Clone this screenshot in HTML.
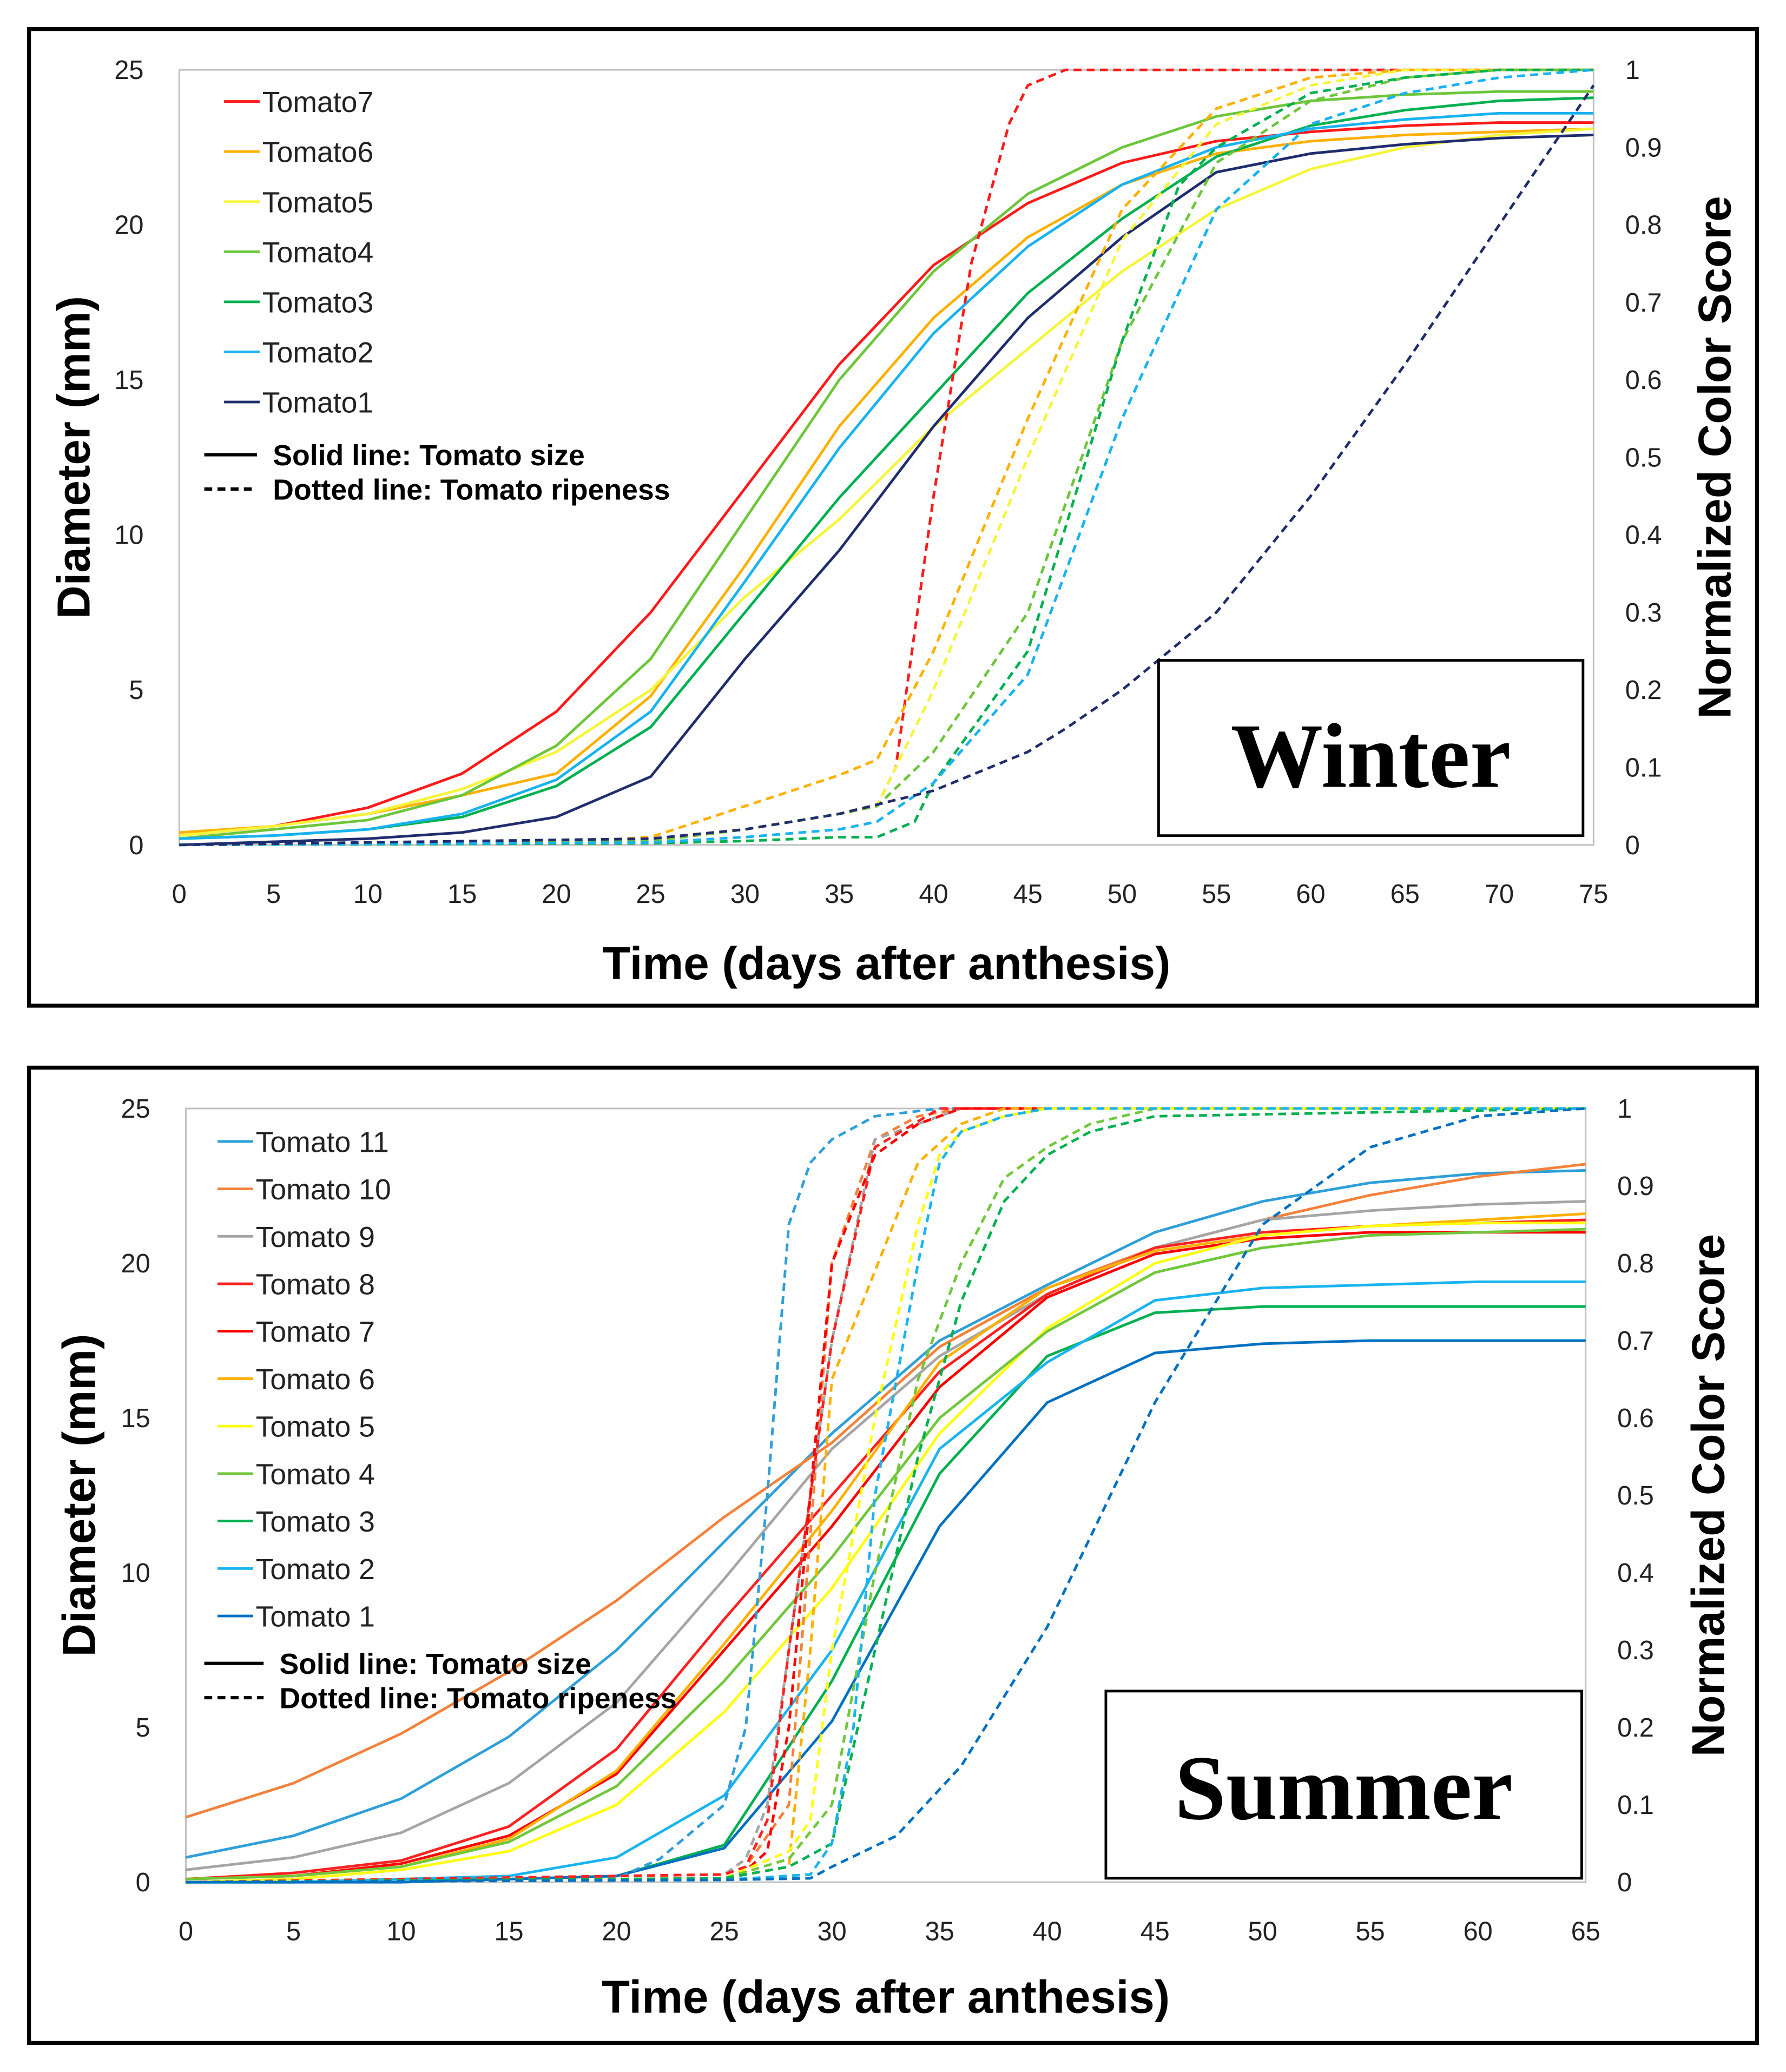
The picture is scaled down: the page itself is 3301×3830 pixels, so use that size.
<!DOCTYPE html>
<html><head><meta charset="utf-8"><style>
html,body{margin:0;padding:0;background:#fff;}
svg{display:block;}
text{font-family:"Liberation Sans",sans-serif;}
</style></head><body>
<svg id="c" width="3301" height="3830" viewBox="0 0 1355 1572" preserveAspectRatio="none" xmlns="http://www.w3.org/2000/svg"></svg>
<script>
// ---------- WINTER DATA ----------
const wDays = [0,5,10,15,20,25,30,35,40,45,50,55,60,65,70,75];
const wNames = ["Tomato7","Tomato6","Tomato5","Tomato4","Tomato3","Tomato2","Tomato1"];
const wColors = ["#ff1a1a","#ffb000","#f5f53a","#6cc63a","#00b050","#18b2f0","#1f2d6e"];
const wSize7 = [0.3,0.6,1.2,2.3,4.3,7.5,11.5,15.5,18.7,20.7,22.0,22.7,23.0,23.2,23.3,23.3];
const wSize6 = [0.4,0.6,1.0,1.6,2.3,4.8,9.0,13.5,17.0,19.6,21.3,22.3,22.7,22.9,23.0,23.1];
const wSize5 = [0.3,0.6,1.0,1.8,3.0,5.0,8.0,10.5,13.5,16.0,18.5,20.5,21.8,22.5,22.9,23.1];
const wSize4 = [0.2,0.5,0.8,1.6,3.2,6.0,10.5,15.0,18.5,21.0,22.5,23.5,24.0,24.2,24.3,24.3];
const wSize3 = [0.2,0.3,0.5,0.9,1.9,3.8,7.5,11.2,14.5,17.8,20.2,22.2,23.2,23.7,24.0,24.1];
const wSize2 = [0.2,0.3,0.5,1.0,2.1,4.3,8.5,12.8,16.5,19.3,21.3,22.5,23.1,23.4,23.6,23.6];
const wSize1 = [0.0,0.1,0.2,0.4,0.9,2.2,6.0,9.5,13.5,17.0,19.6,21.7,22.3,22.6,22.8,22.9];
const wRipeX7 = [0,20,25,30,35,37,38,40,42,44,45,47,50,75];
const wRipeY7 = [0,0.003,0.005,0.02,0.04,0.05,0.1,0.45,0.75,0.93,0.98,1,1,1];
const wRipeX6 = [0,20,25,30,35,37,40,45,50,55,60,65,75];
const wRipeY6 = [0,0.003,0.01,0.05,0.09,0.11,0.25,0.55,0.82,0.95,0.99,1,1];
const wRipeX5 = [0,25,30,35,37,40,45,50,55,60,65,75];
const wRipeY5 = [0,0.005,0.02,0.04,0.05,0.2,0.5,0.78,0.93,0.98,1,1];
const wRipeX4 = [0,25,30,35,37,40,45,50,55,60,65,70,75];
const wRipeY4 = [0,0.005,0.02,0.04,0.05,0.12,0.3,0.65,0.88,0.96,0.99,1,1];
const wRipeX3 = [0,25,30,35,37,39,40,45,50,53,55,60,65,70,75];
const wRipeY3 = [0,0.002,0.005,0.01,0.01,0.03,0.08,0.25,0.65,0.85,0.9,0.97,0.99,1,1];
const wRipeX2 = [0,25,30,35,37,40,45,50,55,60,65,70,75];
const wRipeY2 = [0,0.003,0.01,0.02,0.03,0.08,0.22,0.55,0.82,0.93,0.97,0.99,1];
const wRipeX1 = [0,25,30,35,40,45,47,50,55,60,65,70,75];
const wRipeY1 = [0,0.008,0.02,0.04,0.07,0.12,0.15,0.2,0.3,0.45,0.62,0.8,0.98];
// ---------- SUMMER DATA ----------
const sDays = [0,5,10,15,20,25,30,35,40,45,50,55,60,65];
const sNames = ["Tomato 11","Tomato 10","Tomato 9","Tomato 8","Tomato 7","Tomato 6","Tomato 5","Tomato 4","Tomato 3","Tomato 2","Tomato 1"];
const sColors = ["#2e9fd8","#f4813b","#a5a5a5","#ff2020","#ff0000","#ffb000","#ffff10","#70c73b","#00b050","#19b4f0","#0070c0"];
const sSize11 = [0.8,1.5,2.7,4.7,7.5,11.0,14.5,17.5,19.3,21.0,22.0,22.6,22.9,23.0];
const sSize10 = [2.1,3.2,4.8,6.8,9.1,11.8,14.2,17.3,19.2,20.5,21.4,22.2,22.8,23.2];
const sSize9 = [0.4,0.8,1.6,3.2,5.8,9.8,14.0,17.0,19.0,20.5,21.4,21.7,21.9,22.0];
const sSize8 = [0.1,0.3,0.7,1.8,4.3,8.5,12.5,16.5,19.0,20.5,21.0,21.2,21.3,21.4];
const sSize7 = [0.1,0.2,0.6,1.5,3.5,7.5,11.5,16.0,18.9,20.3,20.8,21.0,21.0,21.0];
const sSize6 = [0.1,0.2,0.5,1.4,3.6,7.7,12.0,16.8,19.2,20.4,20.9,21.2,21.4,21.6];
const sSize5 = [0.0,0.1,0.4,1.0,2.5,5.5,9.5,14.5,17.9,20.0,20.9,21.2,21.3,21.3];
const sSize4 = [0.1,0.2,0.5,1.3,3.1,6.5,10.5,15.0,17.8,19.7,20.5,20.9,21.0,21.1];
const sSize3 = [0.0,0.0,0.1,0.1,0.2,1.2,6.5,13.2,17.0,18.4,18.6,18.6,18.6,18.6];
const sSize2 = [0.0,0.0,0.1,0.2,0.8,2.8,7.5,14.0,16.8,18.8,19.2,19.3,19.4,19.4];
const sSize1 = [0,0,0,0.1,0.2,1.1,5.2,11.5,15.5,17.1,17.4,17.5,17.5,17.5];
const sRipeX11 = [0,20,22,25,26,27,28,29,30,32,35,65];
const sRipeY11 = [0,0.005,0.03,0.1,0.2,0.5,0.85,0.93,0.96,0.99,1,1];
const sRipeX10 = [0,25,26,28,29,30,32,34,36,65];
const sRipeY10 = [0,0.01,0.02,0.1,0.45,0.8,0.96,0.99,1,1];
const sRipeX9 = [0,25,26,27,28,30,32,34,36,65];
const sRipeY9 = [0,0.01,0.03,0.1,0.3,0.7,0.96,0.98,1,1];
const sRipeX8 = [0,25,26,27,28,30,32,35,65];
const sRipeY8 = [0,0.01,0.02,0.08,0.3,0.7,0.95,1,1];
const sRipeX7 = [0,25,26,27,28,29,30,32,34,36,65];
const sRipeY7 = [0,0.005,0.015,0.04,0.2,0.5,0.8,0.94,0.98,1,1];
const sRipeX6 = [0,25,28,29,30,32,34,36,38,65];
const sRipeY6 = [0,0.005,0.02,0.3,0.65,0.79,0.93,0.98,1,1];
const sRipeX5 = [0,25,28,29,30,32,34,35,36,38,40,65];
const sRipeY5 = [0,0.005,0.04,0.08,0.3,0.6,0.85,0.94,0.97,0.99,1,1];
const sRipeX4 = [0,25,28,30,32,34,36,38,40,42,45,65];
const sRipeY4 = [0,0.005,0.03,0.1,0.4,0.65,0.8,0.91,0.95,0.98,1,1];
const sRipeX3 = [0,25,28,30,32,34,36,38,40,42,45,65];
const sRipeY3 = [0,0.005,0.02,0.05,0.3,0.55,0.75,0.88,0.94,0.97,0.99,1];
const sRipeX2 = [0,25,29,30,31,32,34,35,36,38,40,65];
const sRipeY2 = [0,0.003,0.01,0.05,0.2,0.5,0.8,0.93,0.97,0.99,1,1];
const sRipeX1 = [0,25,29,30,33,36,40,45,50,55,60,65];
const sRipeY1 = [0,0.003,0.005,0.02,0.06,0.15,0.33,0.62,0.85,0.95,0.99,1];
const leftTicks = [0,5,10,15,20,25];
const rightTicks = [0,0.1,0.2,0.3,0.4,0.5,0.6,0.7,0.8,0.9,1];
const wXTicks = [0,5,10,15,20,25,30,35,40,45,50,55,60,65,70,75];
const sXTicks = [0,5,10,15,20,25,30,35,40,45,50,55,60,65];

const NS="http://www.w3.org/2000/svg";
const svg=document.getElementById('c');
function mk(tag,attrs,parent,txt){const e=document.createElementNS(NS,tag);for(const k in attrs)e.setAttribute(k,attrs[k]);if(txt!==undefined)e.textContent=txt;(parent||svg).appendChild(e);return e;}

function panel(cfg){
  const g=mk('g',{});
  
  
  const fr=mk('rect',{x:cfg.box[0],y:cfg.box[1],width:cfg.box[2]-cfg.box[0],height:cfg.box[3]-cfg.box[1],fill:'none',stroke:'#000','stroke-width':3},g);
  
  
  const X=d=>cfg.x0+(d/cfg.xmax)*(cfg.x1-cfg.x0);
  const YL=v=>cfg.y0+(v/25)*(cfg.y1-cfg.y0);
  const YR=v=>cfg.y0+v*(cfg.y1-cfg.y0);
  const pa=mk('rect',{x:cfg.x0,y:cfg.y1,width:cfg.x1-cfg.x0,height:cfg.y0-cfg.y1,fill:'none',stroke:'#bfbfbf','stroke-width':1.2},g);
  
  
  leftTicks.forEach(v=>{const t=mk('text',{x:cfg.x0-27,y:YL(v)+7,'font-size':20,'text-anchor':'end',fill:'#222'},g,String(v));
    });
  rightTicks.forEach(v=>{const t=mk('text',{x:cfg.x1+24,y:YR(v)+7,'font-size':20,fill:'#222'},g,String(v));
    });
  cfg.xticks.forEach(v=>{const t=mk('text',{x:X(v),y:cfg.y0+44,'font-size':20,'text-anchor':'middle',fill:'#222'},g,String(v));
    });
  const xt=mk('text',{x:(cfg.x0+cfg.x1)/2,y:cfg.xtY,'font-size':35,'font-weight':'bold','text-anchor':'middle'},g,'Time (days after anthesis)');
  
  const yc=(cfg.y0+cfg.y1)/2;
  const yl=mk('text',{x:0,y:0,'font-size':35,'font-weight':'bold','text-anchor':'middle',transform:`translate(${cfg.ylX},${yc}) rotate(-90)`},g,'Diameter (mm)');
  
  const yr=mk('text',{x:0,y:0,'font-size':35,'font-weight':'bold','text-anchor':'middle',transform:`translate(${cfg.yrX},${yc}) rotate(-90)`},g,'Normalized Color Score');
  
  cfg.sizes.forEach((arr,i)=>{
    const p=mk('polyline',{points:arr.map((v,j)=>X(cfg.days[j])+','+YL(v)).join(' '),fill:'none',stroke:cfg.colors[i],'stroke-width':2},g);
    
    
  });
  cfg.ripeX.forEach((xs,i)=>{
    const ys=cfg.ripeY[i];
    const p=mk('polyline',{points:xs.map((d,j)=>X(d)+','+YR(ys[j])).join(' '),fill:'none',stroke:cfg.colors[i],'stroke-width':2,'stroke-dasharray':'6,4'},g);
    
    
  });
  cfg.names.forEach((n,i)=>{
    const y=cfg.legY+i*cfg.legStep;
    const l=mk('line',{x1:cfg.legX,x2:cfg.legX+27,y1:y,y2:y,stroke:cfg.colors[i],'stroke-width':2},g);
    
    const t=mk('text',{x:cfg.legX+29,y:y+8,'font-size':22,fill:'#222'},g,n);
    
  });
  const ln1=mk('line',{x1:155,x2:cfg.lx2,y1:cfg.solidY,y2:cfg.solidY,stroke:'#000','stroke-width':2.5},g);
  
  const t1=mk('text',{x:cfg.lx2+12,y:cfg.solidY+8,'font-size':22,'font-weight':'bold'},g,'Solid line: Tomato size');
  
  const ln2=mk('line',{x1:155,x2:cfg.lx2,y1:cfg.solidY+26,y2:cfg.solidY+26,stroke:'#000','stroke-width':2.5,'stroke-dasharray':'6,4'},g);
  
  const t2=mk('text',{x:cfg.lx2+12,y:cfg.solidY+34,'font-size':22,'font-weight':'bold'},g,'Dotted line: Tomato ripeness');
  
  const b=cfg.sbox;
  const sr=mk('rect',{x:b[0],y:b[1],width:b[2]-b[0],height:b[3]-b[1],fill:'#fff',stroke:'#000','stroke-width':2},g);
  
  const st=mk('text',{x:(b[0]+b[2])/2,y:cfg.stY,'font-size':70,'font-weight':'bold','text-anchor':'middle',style:'font-family:"Liberation Serif",serif'},g,cfg.season);
  
}

panel({name:'winter-chart',season:'Winter',box:[22,22,1333,763],x0:136,x1:1209,y0:641,y1:53,xmax:75,days:wDays,xticks:wXTicks,
  names:wNames,colors:wColors,sizes:[wSize7,wSize6,wSize5,wSize4,wSize3,wSize2,wSize1],
  ripeX:[wRipeX7,wRipeX6,wRipeX5,wRipeX4,wRipeX3,wRipeX2,wRipeX1],ripeY:[wRipeY7,wRipeY6,wRipeY5,wRipeY4,wRipeY3,wRipeY2,wRipeY1],
  xtY:743,ylX:68,yrX:1313,legX:170,legY:77,legStep:38,lx2:195,solidY:345,sbox:[879,501,1201,634],stY:597});
panel({name:'summer-chart',season:'Summer',box:[22,810,1333,1550],x0:141,x1:1203,y0:1428,y1:841,xmax:65,days:sDays,xticks:sXTicks,
  names:sNames,colors:sColors,sizes:[sSize11,sSize10,sSize9,sSize8,sSize7,sSize6,sSize5,sSize4,sSize3,sSize2,sSize1],
  ripeX:[sRipeX11,sRipeX10,sRipeX9,sRipeX8,sRipeX7,sRipeX6,sRipeX5,sRipeX4,sRipeX3,sRipeX2,sRipeX1],
  ripeY:[sRipeY11,sRipeY10,sRipeY9,sRipeY8,sRipeY7,sRipeY6,sRipeY5,sRipeY4,sRipeY3,sRipeY2,sRipeY1],
  xtY:1527,ylX:72,yrX:1308,legX:165,legY:866,legStep:36,lx2:200,solidY:1262,sbox:[839,1283,1200,1425],stY:1380});
</script>
</body></html>
